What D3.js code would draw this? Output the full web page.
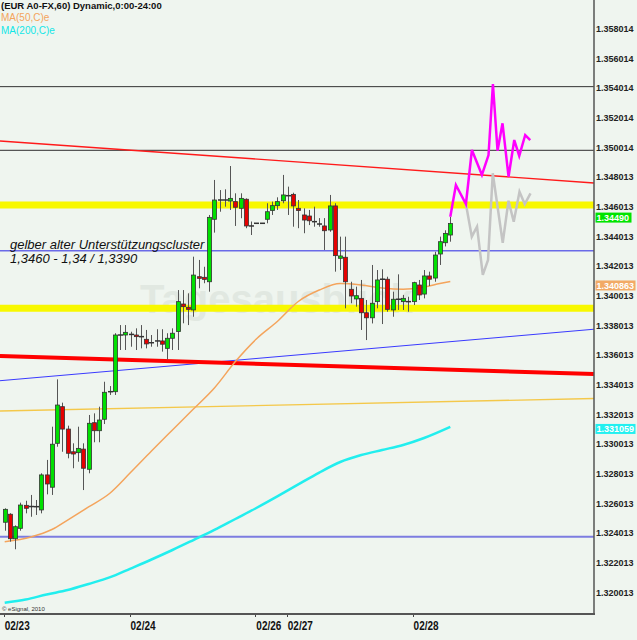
<!DOCTYPE html>
<html>
<head>
<meta charset="utf-8">
<script src="https://cdnjs.cloudflare.com/ajax/libs/d3/7.8.5/d3.min.js"></script>
<style>
    body { margin: 0; background: #eff5ef; }
    svg { display: block; }
</style>
</head>
<body>
<svg id="chart"></svg>
<script>

// price axis labels (right side) and date labels
var tickLabels = ["1.358014", "1.356014", "1.354014", "1.352014", "1.350014", "1.348013", "1.346013",
    "1.344013", "1.342013", "1.340013", "1.338013", "1.336013", "1.334013", "1.332013", "1.330013",
    "1.328013", "1.326013", "1.324013", "1.322013", "1.320013"];
var dateLabels = ["02/23", "02/24", "02/26", "02/27", "02/28"];
var dateIndex = [0, 24, 48, 54, 78];

// hourly candles
var open = [1.32477, 1.32531, 1.32366, 1.32436, 1.32591, 1.32582, 1.32582, 1.32560, 1.32796, 1.32713,
    1.33009, 1.33256, 1.33105, 1.32952, 1.32946, 1.32970, 1.32834, 1.33148, 1.33094, 1.33171,
    1.33357, 1.33357, 1.33739, 1.33739, 1.33743, 1.33739, 1.33728, 1.33710, 1.33677, 1.33699,
    1.33699, 1.33649, 1.33717, 1.33762, 1.33948, 1.33926, 1.33908, 1.34132, 1.34128, 1.34098,
    1.34519, 1.34649, 1.34649, 1.34642, 1.34638, 1.34593, 1.34654, 1.34474, 1.34492, 1.34492,
    1.34519, 1.34578, 1.34611, 1.34644, 1.34678, 1.34687, 1.34593, 1.34548, 1.34541, 1.34503,
    1.34496, 1.34474, 1.34447, 1.34609, 1.34256, 1.34263, 1.34047, 1.33982, 1.33986, 1.33889,
    1.33855, 1.33964, 1.34115, 1.34115, 1.33908, 1.33980, 1.33964, 1.33964, 1.33964, 1.34076,
    1.34015, 1.34137, 1.34123, 1.34285, 1.34361, 1.34413];
var high = [1.32571, 1.32538, 1.32456, 1.32609, 1.32622, 1.32661, 1.32627, 1.32807, 1.32897, 1.33121,
    1.33440, 1.33283, 1.33128, 1.33009, 1.33121, 1.33009, 1.33200, 1.33211, 1.33256, 1.33424,
    1.33395, 1.33751, 1.33806, 1.33806, 1.33761, 1.33784, 1.33806, 1.33773, 1.33739, 1.33778,
    1.33778, 1.33751, 1.33784, 1.34042, 1.34042, 1.34020, 1.34267, 1.34245, 1.34199, 1.34548,
    1.34784, 1.34716, 1.34721, 1.34878, 1.34694, 1.34694, 1.34660, 1.34504, 1.34492, 1.34492,
    1.34627, 1.34638, 1.34667, 1.34818, 1.34739, 1.34698, 1.34649, 1.34593, 1.34582, 1.34604,
    1.34527, 1.34527, 1.34683, 1.34627, 1.34402, 1.34402, 1.34098, 1.34065, 1.34110, 1.33975,
    1.34211, 1.34177, 1.34182, 1.34132, 1.34031, 1.34148, 1.34009, 1.33997, 1.34098, 1.34110,
    1.34177, 1.34166, 1.34300, 1.34402, 1.34445, 1.34536];
var low = [1.32420, 1.32346, 1.32295, 1.32420, 1.32537, 1.32514, 1.32526, 1.32537, 1.32665, 1.32661,
    1.32986, 1.32952, 1.32908, 1.32841, 1.32885, 1.32694, 1.32807, 1.33016, 1.33016, 1.33139,
    1.33335, 1.33335, 1.33638, 1.33638, 1.33660, 1.33638, 1.33649, 1.33649, 1.33660, 1.33660,
    1.33627, 1.33575, 1.33638, 1.33638, 1.33818, 1.33806, 1.33862, 1.34054, 1.34088, 1.34031,
    1.34429, 1.34570, 1.34604, 1.34582, 1.34474, 1.34526, 1.34459, 1.34413, 1.34492, 1.34492,
    1.34492, 1.34548, 1.34582, 1.34627, 1.34548, 1.34469, 1.34459, 1.34425, 1.34480, 1.34469,
    1.34469, 1.34312, 1.34435, 1.34166, 1.34177, 1.33919, 1.33953, 1.33930, 1.33773, 1.33705,
    1.33817, 1.33919, 1.33813, 1.33896, 1.33862, 1.33908, 1.33908, 1.33896, 1.33941, 1.33975,
    1.33986, 1.34069, 1.34098, 1.34211, 1.34336, 1.34368];
var close = [1.32564, 1.32366, 1.32447, 1.32593, 1.32571, 1.32583, 1.32582, 1.32796, 1.32735, 1.33003,
    1.33267, 1.33105, 1.32942, 1.32937, 1.32975, 1.32841, 1.33144, 1.33094, 1.33166, 1.33353,
    1.33357, 1.33739, 1.33739, 1.33757, 1.33743, 1.33728, 1.33728, 1.33679, 1.33687, 1.33699,
    1.33677, 1.33717, 1.33751, 1.33964, 1.33930, 1.33912, 1.34143, 1.34121, 1.34114, 1.34532,
    1.34649, 1.34649, 1.34649, 1.34660, 1.34600, 1.34660, 1.34474, 1.34474, 1.34492, 1.34492,
    1.34570, 1.34611, 1.34638, 1.34683, 1.34678, 1.34609, 1.34578, 1.34514, 1.34509, 1.34503,
    1.34487, 1.34442, 1.34609, 1.34274, 1.34272, 1.34098, 1.34002, 1.34004, 1.33889, 1.33855,
    1.33953, 1.34110, 1.34115, 1.33912, 1.33980, 1.33980, 1.33986, 1.33964, 1.34092, 1.34009,
    1.34137, 1.34115, 1.34278, 1.34368, 1.34424, 1.34490];

// moving averages, read at sample candles
var ma50Index = [0, 5, 9, 12, 16, 20, 24, 28, 32, 36, 40, 44, 48, 52, 56, 60, 64, 68, 72, 76, 80, 83, 85];
var ma50 = [1.32346, 1.32378, 1.32428, 1.32492, 1.32580, 1.32671, 1.32812, 1.32957, 1.33099, 1.33240,
    1.33382, 1.33560, 1.33712, 1.33830, 1.33965, 1.34042, 1.34086, 1.34076, 1.34056, 1.34048,
    1.34063, 1.34086, 1.34100];
var ma200Index = [0, 4, 8, 12, 16, 20, 24, 28, 32, 36, 40, 44, 48, 52, 56, 60, 64, 68, 72, 76, 80, 85];
var ma200 = [1.31935, 1.31956, 1.31990, 1.32020, 1.32061, 1.32105, 1.32165, 1.32226, 1.32290, 1.32357,
    1.32425, 1.32499, 1.32573, 1.32651, 1.32732, 1.32812, 1.32883, 1.32930, 1.32964, 1.32998,
    1.33045, 1.33120];

// projected paths (magenta and grey)
var projIndex = [85, 86.07, 87.98, 89.12, 91.03, 92.29, 93.13, 94.01, 94.96, 96.11, 97.2, 98.15, 99.29, 100.25];
var projUp = [1.34536, 1.34750, 1.34622, 1.34986, 1.34818, 1.34952, 1.35431, 1.34981, 1.35166, 1.34806,
    1.35053, 1.34946, 1.35087, 1.35053];
var altIndex = [87.98, 89.1, 90.1, 91.2, 92.2, 93.1, 95.0, 96.1, 97.1, 98.2, 99.2, 100.3];
var projDown = [1.34622, 1.34402, 1.34469, 1.34144, 1.34245, 1.34829, 1.34361, 1.34644, 1.34503, 1.34705,
    1.34622, 1.34694];

// horizontal levels, yellow zones and trend lines (price at left / right edge)
var levels = [1.35413, 1.34984, 1.34307, 1.32380];
var zones = [1.34615, 1.33919];
var blueTrend = [1.33431, 1.33778];
var redTrend = [1.33598, 1.33476];
var redThinTrend = [1.35047, 1.34764];
var goldTrend = [1.33227, 1.33311];

// price tags on the right axis
var lastPrice = 1.34490;
var ma50Last = 1.340863;
var ma200Last = 1.331059;

var width = 637, height = 640;
var plotRight = 594, plotBottom = 614;

var svg = d3.select("#chart")
    .attr("width", width)
    .attr("height", height)
    .style("font-family", "'Liberation Sans', Arial, sans-serif");

svg.append("rect").attr("width", width).attr("height", height).attr("fill", "#eff5ef");

var x = d3.scaleLinear().domain([0, 85]).range([4.7, 450.3]);
var y = d3.scaleLinear().domain([1.318586, 1.35997]).range([plotBottom, 0]);
var xLeft = x.invert(0), xRight = x.invert(plotRight);

var plot = svg.append("g");

// watermark
plot.append("text")
    .attr("x", 140).attr("y", 313)
    .attr("font-size", 40).attr("font-weight", "bold")
    .attr("fill", "#e1e8e1")
    .text("Tagesausblick");

// yellow zones
plot.selectAll(".zone").data(zones).enter().append("line")
    .attr("x1", 0).attr("x2", plotRight)
    .attr("y1", function (d) { return y(d); })
    .attr("y2", function (d) { return y(d); })
    .attr("stroke", "#f8f800").attr("stroke-width", 7);

// horizontal levels
var levelColors = ["#333333", "#555555", "#6a6ae8", "#7c7ce0"];
var levelWidths = [1, 1.3, 1.3, 2];
plot.selectAll(".level").data(levels).enter().append("line")
    .attr("x1", 0).attr("x2", plotRight)
    .attr("y1", function (d) { return y(d); })
    .attr("y2", function (d) { return y(d); })
    .attr("stroke", function (d, i) { return levelColors[i]; })
    .attr("stroke-width", function (d, i) { return levelWidths[i]; });

// trend lines
var trends = [
    { p: blueTrend, color: "#3a3aff", w: 1 },
    { p: redTrend, color: "#ff0000", w: 4 },
    { p: redThinTrend, color: "#ff1a1a", w: 1.4 },
    { p: goldTrend, color: "#f4c84a", w: 1.3 }
];
plot.selectAll(".trend").data(trends).enter().append("line")
    .attr("x1", x(xLeft)).attr("x2", x(xRight))
    .attr("y1", function (d) { return y(d.p[0]); })
    .attr("y2", function (d) { return y(d.p[1]); })
    .attr("stroke", function (d) { return d.color; })
    .attr("stroke-width", function (d) { return d.w; });

// annotation
plot.append("text")
    .attr("x", 10).attr("y", 249)
    .attr("font-size", 13).attr("font-style", "italic").attr("fill", "#111")
    .text("gelber alter Unterstützungscluster");
plot.append("text")
    .attr("x", 10).attr("y", 263)
    .attr("font-size", 13).attr("font-style", "italic").attr("fill", "#111")
    .text("1,3460 - 1,34 / 1,3390");

// moving averages
var line = d3.line()
    .x(function (d) { return x(d[0]); })
    .y(function (d) { return y(d[1]); });

plot.append("path")
    .datum(ma200Index.map(function (d, i) { return [d, ma200[i]]; }))
    .attr("d", line.curve(d3.curveMonotoneX))
    .attr("fill", "none").attr("stroke", "#22eeee").attr("stroke-width", 2.5);

plot.append("path")
    .datum(ma50Index.map(function (d, i) { return [d, ma50[i]]; }))
    .attr("d", line.curve(d3.curveMonotoneX))
    .attr("fill", "none").attr("stroke", "#f4a45c").attr("stroke-width", 1.5);

// candles
var candles = open.map(function (o, i) {
    return { i: i, o: o, h: high[i], l: low[i], c: close[i] };
});

function cx(d) { return Math.round(x(d.i)) + 0.5; }

plot.selectAll(".wick").data(candles).enter().append("line")
    .attr("x1", cx).attr("x2", cx)
    .attr("y1", function (d) { return y(d.h); })
    .attr("y2", function (d) { return y(d.l); })
    .attr("stroke", "#555").attr("stroke-width", 1);

var bodies = candles.filter(function (d) { return Math.abs(y(d.o) - y(d.c)) >= 1.5; });
var dojis = candles.filter(function (d) { return Math.abs(y(d.o) - y(d.c)) < 1.5; });

plot.selectAll(".body").data(bodies).enter().append("rect")
    .attr("x", function (d) { return cx(d) - 2; })
    .attr("width", 4)
    .attr("y", function (d) { return y(Math.max(d.o, d.c)); })
    .attr("height", function (d) { return Math.abs(y(d.o) - y(d.c)); })
    .attr("fill", function (d) { return d.c > d.o ? "#00e000" : "#e60000"; })
    .attr("stroke", "#333").attr("stroke-width", 0.8);

plot.selectAll(".doji").data(dojis).enter().append("line")
    .attr("x1", function (d) { return cx(d) - 2.5; })
    .attr("x2", function (d) { return cx(d) + 2.5; })
    .attr("y1", function (d) { return y(d.c); })
    .attr("y2", function (d) { return y(d.c); })
    .attr("stroke", "#333").attr("stroke-width", 1.5);

// projections
plot.append("path")
    .datum(altIndex.map(function (d, i) { return [d, projDown[i]]; }))
    .attr("d", line.curve(d3.curveLinear))
    .attr("fill", "none").attr("stroke", "#c4c4c4").attr("stroke-width", 2.5);

plot.append("path")
    .datum(projIndex.map(function (d, i) { return [d, projUp[i]]; }))
    .attr("d", line.curve(d3.curveLinear))
    .attr("fill", "none").attr("stroke", "#ff00ff").attr("stroke-width", 2.5);

// header texts
svg.append("text").attr("x", 1).attr("y", 9)
    .attr("font-size", 9.5).attr("font-weight", "bold").attr("fill", "#111")
    .text("(EUR A0-FX,60) Dynamic,0:00-24:00");
svg.append("text").attr("x", 1).attr("y", 21)
    .attr("font-size", 10).attr("fill", "#f4a45c")
    .text("MA(50,C)e");
svg.append("text").attr("x", 1).attr("y", 34)
    .attr("font-size", 10).attr("fill", "#11e6e6")
    .text("MA(200,C)e");

svg.append("text").attr("x", 2).attr("y", 611)
    .attr("font-size", 6).attr("fill", "#333")
    .text("© eSignal, 2010");

// frame
svg.append("line")
    .attr("x1", plotRight).attr("x2", plotRight).attr("y1", 0).attr("y2", plotBottom)
    .attr("stroke", "#555").attr("stroke-width", 1.5);
svg.append("line")
    .attr("x1", 0).attr("x2", plotRight + 1).attr("y1", plotBottom).attr("y2", plotBottom)
    .attr("stroke", "#555").attr("stroke-width", 2);

// right price axis
svg.selectAll(".ylab").data(tickLabels).enter().append("text")
    .attr("x", plotRight + 2)
    .attr("y", function (d) { return y(+d) + 3; })
    .attr("font-size", 9).attr("font-weight", "bold").attr("fill", "#222")
    .text(function (d) { return d; });

// price tags
var tags = [
    { v: lastPrice, text: lastPrice.toFixed(5), fill: "#00e400", dy: -6, w: 36 },
    { v: ma50Last, text: ma50Last.toFixed(6), fill: "#f2aa66", dy: 2, w: 40 },
    { v: ma200Last, text: ma200Last.toFixed(6), fill: "#22f0f0", dy: 0, w: 40 }
];
var tag = svg.selectAll(".tag").data(tags).enter().append("g");
tag.append("rect")
    .attr("x", plotRight + 1.5)
    .attr("y", function (d) { return y(d.v) + d.dy - 5; })
    .attr("width", function (d) { return d.w; })
    .attr("height", 10)
    .attr("fill", function (d) { return d.fill; });
tag.append("text")
    .attr("x", plotRight + 2.5)
    .attr("y", function (d) { return y(d.v) + d.dy + 3.2; })
    .attr("font-size", 9).attr("font-weight", "bold").attr("fill", "#fff")
    .text(function (d) { return d.text; });

// date axis
svg.selectAll(".dtick").data(dateIndex).enter().append("line")
    .attr("x1", function (d) { return Math.round(x(d)) - 0.5; })
    .attr("x2", function (d) { return Math.round(x(d)) - 0.5; })
    .attr("y1", plotBottom + 1).attr("y2", plotBottom + 3)
    .attr("stroke", "#444");
svg.selectAll(".dlab").data(dateLabels).enter().append("text")
    .attr("x", function (d, i) { return x(dateIndex[i]); })
    .attr("y", 630)
    .attr("font-size", 12).attr("font-weight", "bold").attr("fill", "#111")
    .attr("textLength", 25).attr("lengthAdjust", "spacingAndGlyphs")
    .text(function (d) { return d; });

</script>
</body>
</html>
